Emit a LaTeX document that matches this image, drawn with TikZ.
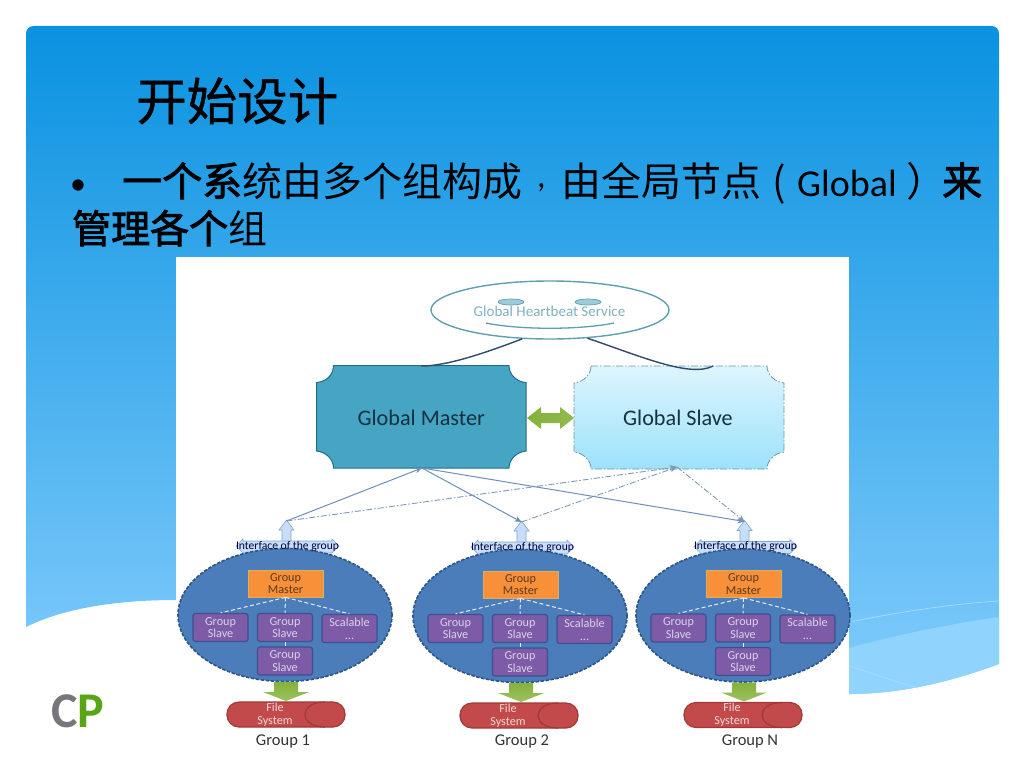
\documentclass[tikz,border=0pt]{standalone}
\usepackage{fontspec}
\setmainfont{Carlito}
\newfontfamily\cjk{Noto Sans CJK SC}
\newfontfamily\cjkb[FakeBold=2.2]{Noto Sans CJK SC}
\newfontfamily\cjkt[FakeBold=0.9]{Noto Sans CJK SC}
\usetikzlibrary{shapes.geometric,arrows.meta}
\definecolor{bgtop}{HTML}{0A92E0}
\definecolor{bgmid}{HTML}{4FA6E8}
\definecolor{bgbot}{HTML}{82CCFC}
\definecolor{wave}{HTML}{90D4FD}
\definecolor{waveline}{HTML}{A8DDFD}
\definecolor{gmfill}{HTML}{45A5C3}
\definecolor{gmline}{HTML}{1F6E8C}
\definecolor{gstop}{HTML}{DDF5FD}
\definecolor{gsbot}{HTML}{9DE2FA}
\definecolor{gsline}{HTML}{6C93A8}
\definecolor{hbline}{HTML}{5F9FB0}
\definecolor{hbtext}{HTML}{7FB0C4}
\definecolor{hbeye}{HTML}{9CCBDC}
\definecolor{navyline}{HTML}{2F4A6B}
\definecolor{linkc}{HTML}{6F8FB8}
\definecolor{dashc}{HTML}{7F98B5}
\definecolor{grpfill}{HTML}{4A7DB9}
\definecolor{grpline}{HTML}{2D5688}
\definecolor{slavefill}{HTML}{7D5BA6}
\definecolor{slaveline}{HTML}{3F4F90}
\definecolor{slavetext}{HTML}{DAD2E8}
\definecolor{masterfill}{HTML}{F79038}
\definecolor{masterline}{HTML}{D9B060}
\definecolor{mastertext}{HTML}{5A3A20}
\definecolor{fsfill}{HTML}{C24A4A}
\definecolor{fsline}{HTML}{A23838}
\definecolor{fstext}{HTML}{F3D8D8}
\definecolor{greena}{HTML}{84B23A}
\definecolor{faceblue}{HTML}{C8DEF6}
\definecolor{faceline}{HTML}{7FA6D6}
\definecolor{logog}{HTML}{77777B}
\definecolor{logop}{HTML}{58A618}
\definecolor{maintxt}{HTML}{15303F}
\tikzset{
  px/.style={font=\fontsize{#1}{#1}\selectfont},
  ttl/.style={inner sep=0pt,anchor=base west,text=black},
  link/.style={draw=linkc,line width=1pt,-{Stealth[length=7pt,width=6pt]}},
  dlink/.style={draw=dashc,line width=0.9pt,dash pattern=on 6pt off 2pt on 1.5pt off 2pt,-{Stealth[length=7pt,width=6pt]}},
  slavebox/.style={draw=slaveline,line width=1.2pt,fill=slavefill,rounded corners=2.5pt,minimum width=55pt,minimum height=28pt,inner sep=0pt,align=center,text=slavetext,font=\fontsize{12.2}{12.8}\selectfont},
  inner/.style={draw=white!85!grpfill,line width=1pt,dash pattern=on 4pt off 2.5pt},
}
\newcommand{\grp}[4]{% id, dx, dy, label x
 \begin{scope}[shift={(#2,#3)}]
  \fill[faceblue,draw=faceline,line width=0.6pt] (282,542)--(282,530)--(279,530)--(286.5,520)--(294,530)--(291,530)--(291,542)--cycle;
  \coordinate (t#1) at (286.5,521);
  \fill[faceblue,draw=faceline,line width=0.6pt] (236,546)--(243,539)--(243,541)--(332,541)--(332,539)--(339,546)--(332,553)--(243,553)--cycle;
  \node[ellipse,draw=grpline,fill=grpfill,line width=1.6pt,dash pattern=on 3.5pt off 1.5pt,minimum width=214pt,minimum height=133pt,inner sep=0pt] (e#1) at (285,615) {};
  \node[inner sep=0pt,text=black!75!blue,px=11.6] (i#1) at (287.5,546) {Interface of the group};
  \node[draw=masterline,line width=0.8pt,fill=masterfill,minimum width=75pt,minimum height=27pt,inner sep=0pt,align=center,text=mastertext,font=\fontsize{12.2}{12.8}\selectfont] (m#1) at (285.5,583.5) {Group\\Master};
  \node[slavebox] (a#1) at (220.5,627.5) {Group\\Slave};
  \node[slavebox] (b#1) at (285,627.5) {Group\\Slave};
  \node[slavebox] (c#1) at (349.5,628.5) {Scalable\\...};
  \node[slavebox] (d#1) at (285,661) {Group\\Slave};
  \draw[inner] (m#1.south) -- (a#1.north);
  \draw[inner] (m#1.south) -- (b#1.north);
  \draw[inner] (m#1.south) -- (c#1.north);
  \draw[inner] (b#1.south) -- (d#1.north);
  \shade[top color=greena,bottom color=greena!80!white] (274,682)--(298,682)--(298,692)--(309,692)--(286,701)--(263,692)--(274,692)--cycle;
 \end{scope}
 \begin{scope}[shift={(#2-#3-#3,#3)}]
  \node[draw=fsline,line width=1.2pt,fill=fsfill,rounded corners=12pt,minimum width=118pt,minimum height=25pt,inner sep=0pt] (f#1) at (286,714.5) {};
  \draw[fsline,line width=1.2pt] (325,702) .. controls (312,702) and (305,708) .. (305,714.5) .. controls (305,721) and (312,727) .. (325,727);
  \node[inner sep=0pt,align=center,text=fstext,font=\fontsize{12.2}{12.8}\selectfont] (ft#1) at (275,714.5) {File\\System};
 \end{scope}
 \node[inner sep=0pt,px=16.5,text=black!80] (l#1) at (#4,741) {Group \ifnum#1=3 N\else#1\fi};
}
\begin{document}
\begin{tikzpicture}[x=1pt,y=-1pt]
\useasboundingbox (0,0) rectangle (1024,768);
\fill[white] (0,0) rectangle (1024,768);
% slide background
\shade[top color=bgtop,middle color=bgmid,bottom color=bgbot]
  (26,34) .. controls (26,29) and (29,26) .. (34,26) -- (991,26) .. controls (996,26) and (999,29) .. (999,34)
  -- (999,664) .. controls (950,682) and (900,694) .. (849,694)
  .. controls (650,694) and (400,600) .. (176,600)
  .. controls (110,600) and (60,610) .. (26,627) -- cycle;
\fill[wave] (849,648) .. controls (900,634) and (950,624) .. (999,617) -- (999,664) .. controls (950,682) and (900,694) .. (849,694) -- cycle;
\draw[waveline,line width=0.7pt] (849,622) .. controls (900,612) and (950,604) .. (999,601);
\draw[waveline,line width=0.7pt] (849,666) .. controls (875,674) and (895,682) .. (918,688);
% title and text
\node[ttl,px=50.5] (title) at (136,120) {\cjkt 开始设计};
\node[ttl,px=32] (bu) at (70,194) {•};
\node[ttl,px=40] (t1) at (122,196) {\cjkb 一个系};
\node[ttl,px=40] (t2) at (242,196) {\cjk 统由多个组构成};
\node[ttl,px=34] (t3) at (537,187) {,};
\node[ttl,px=40] (t4) at (561,196) {\cjk 由全局节点};
\node[ttl,px=40] (t5) at (772,196) {\cjk (};
\node[ttl,px=38] (t6) at (797,196) {Global};
\node[ttl,px=40] (t7) at (906,196) {\cjk ）};
\node[ttl,px=40] (t8) at (942,196) {\cjkb 来};
\node[ttl,px=39] (t9) at (72,243) {\cjkb 管理各个};
\node[ttl,px=39] (t10) at (228,243) {\cjk 组};
% logo
\node[inner sep=0pt,anchor=base west,font=\fontsize{50}{50}\selectfont\bfseries] (logo) at (51,727) {\textcolor{logog}{C}\textcolor{logop}{P}};
% white picture panel
\fill[white] (176,257) rectangle (849,763);
% heartbeat
\node[ellipse,draw=hbline,line width=1.4pt,minimum width=238pt,minimum height=58pt,inner sep=0pt] (hb) at (550,310) {};
\node[ellipse,draw=hbline,fill=hbeye,line width=0.7pt,minimum width=26pt,minimum height=6pt,inner sep=0pt] (eye1) at (511,302) {};
\node[ellipse,draw=hbline,fill=hbeye,line width=0.7pt,minimum width=26pt,minimum height=6pt,inner sep=0pt] (eye2) at (588,302) {};
\node[inner sep=0pt,px=15,text=hbtext] (hbt) at (549.5,311) {Global Heartbeat Service};
\draw[hbline,line width=1.3pt] (486,323) .. controls (520,330) and (580,330) .. (614,323);
% master and slave
\fill[gmfill,draw=gmline,line width=1pt]
  (333.5,365.5) -- (509,365.5) .. controls (509,375) and (517,382) .. (526,382.5)
  -- (526,451) .. controls (517,452) and (509,459) .. (509,468)
  -- (333.5,468) .. controls (333.5,459) and (326,452) .. (316.5,451)
  -- (316.5,382.5) .. controls (326,382) and (333.5,375) .. (333.5,365.5) -- cycle;
\shade[top color=gstop,bottom color=gsbot]
  (591,366) -- (767,366) .. controls (767,375) and (775,382) .. (784,383)
  -- (784,452) .. controls (775,453) and (767,460) .. (767,469)
  -- (591,469) .. controls (591,460) and (583,453) .. (574,452)
  -- (574,383) .. controls (583,382) and (591,375) .. (591,366) -- cycle;
\draw[gsline,line width=0.8pt,dash pattern=on 7pt off 2pt on 1.5pt off 2pt]
  (591,366) -- (767,366) .. controls (767,375) and (775,382) .. (784,383)
  -- (784,452) .. controls (775,453) and (767,460) .. (767,469)
  -- (591,469) .. controls (591,460) and (583,453) .. (574,452)
  -- (574,383) .. controls (583,382) and (591,375) .. (591,366) -- cycle;
\node[minimum width=209.5pt,minimum height=102.5pt,inner sep=0pt,px=22.2,text=maintxt] (gm) at (421.25,417.5) {Global Master};
\node[minimum width=210pt,minimum height=103pt,inner sep=0pt,px=22.2,text=maintxt] (gs) at (678,418) {Global Slave};
\coordinate (gsc) at (713,366);
\draw[navyline,line width=1.4pt] (hb.226) .. controls (480,355) and (445,366) .. (gm.north);
\draw[navyline,line width=1.4pt] (hb.323) .. controls (640,356) and (690,378) .. (gsc);
\shade[left color=greena,right color=greena!90!white] (527,418) -- (541,407) -- (541,413) -- (560,413) -- (560,407) -- (574,418) -- (560,429) -- (560,423) -- (541,423) -- (541,429) -- cycle;
% groups
\grp{1}{0}{0}{283}
\grp{2}{235}{1}{522}
\grp{3}{458}{0.5}{750}
% links
\coordinate (gmb) at (422,468);
\coordinate (gsb) at (677,467);
\draw[link] (t1) -- (gmb);
\draw[link] (gmb) -- (t2);
\draw[link] (gmb) -- (t3);
\draw[dlink] (t1) -- (gsb);
\draw[dlink] (t2) -- (gsb);
\draw[dlink] (gsb) -- (t3);
\end{tikzpicture}
\end{document}
